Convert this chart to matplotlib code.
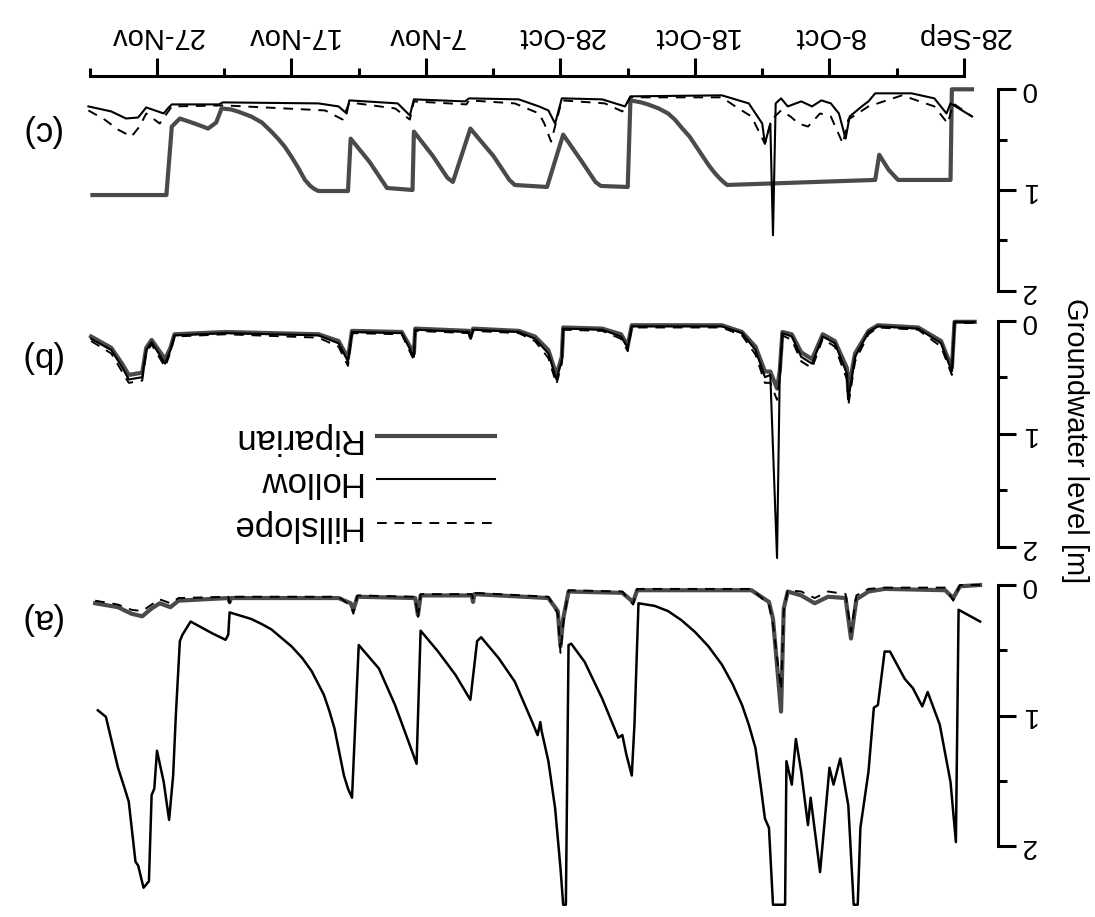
import matplotlib
matplotlib.use("Agg")
import matplotlib.pyplot as plt
from matplotlib.ticker import FixedLocator

plt.rcParams['font.family'] = ['Liberation Sans', 'DejaVu Sans']

# x = days after 28-Sep, y = groundwater depth [m] (figure is printed upside down)
date_ticks = [0, 10, 20, 30, 40, 50, 60]
date_labels = ['28-Sep', '8-Oct', '18-Oct', '28-Oct', '7-Nov', '17-Nov', '27-Nov']

# panel (a)
a_deep_days = [64.4, 63.8, 62.9, 62.4, 62.1, 61.6, 61.4, 61.0, 60.6, 60.4, 60.2, 60.0, 59.5, 59.1, 58.8,
               58.6, 58.3, 58.1, 57.5, 55.9, 54.9, 54.7, 54.6, 53.0, 52.2, 51.5, 50.0, 49.2, 48.5, 47.6,
               47.2, 46.8, 46.1, 45.8, 45.5, 45.0, 43.5, 42.3, 41.3, 40.7, 40.4, 39.1, 37.8, 36.7, 36.2,
               35.9, 34.6, 33.4, 32.1, 31.7, 31.5, 31.4, 30.9, 30.4, 30.0, 29.8, 29.6, 29.4, 29.2, 28.2,
               26.9, 25.7, 25.4, 25.1, 24.7, 24.5, 24.2, 23.0, 22.0, 21.0, 20.0, 19.0, 18.0, 17.2, 16.5,
               16.0, 15.5, 15.1, 14.8, 14.5, 14.2, 13.3, 13.2, 12.8, 12.5, 12.1, 11.6, 11.4, 10.7, 10.0,
               9.7, 9.2, 8.6, 8.2, 7.9, 7.7, 7.1, 6.7, 6.4, 5.9, 5.5, 4.4, 3.8, 3.1, 2.7,
               1.8, 1.0, 0.6, 0.4, -1.2]
a_deep = [0.96, 1.01, 1.40, 1.56, 1.66, 2.12, 2.15, 2.32, 2.27, 1.61, 1.56, 1.27, 1.51, 1.80, 1.46,
          1.00, 0.43, 0.38, 0.28, 0.37, 0.42, 0.38, 0.21, 0.26, 0.30, 0.34, 0.47, 0.56, 0.66, 0.84,
          0.96, 1.10, 1.46, 1.56, 1.63, 0.46, 0.64, 0.92, 1.20, 1.37, 0.35, 0.51, 0.69, 0.88, 0.43,
          0.40, 0.56, 0.74, 1.05, 1.15, 1.05, 1.12, 1.35, 1.71, 2.17, 2.45, 2.45, 0.46, 0.45, 0.59,
          0.87, 1.17, 1.15, 1.30, 1.46, 1.07, 0.14, 0.16, 0.20, 0.27, 0.36, 0.47, 0.61, 0.76, 0.92,
          1.07, 1.25, 1.55, 1.79, 1.86, 2.45, 2.45, 1.35, 1.53, 1.18, 1.43, 1.84, 1.63, 2.20, 1.40,
          1.53, 1.33, 1.69, 2.45, 2.45, 1.86, 1.43, 0.94, 0.92, 0.51, 0.51, 0.72, 0.79, 0.93, 0.82,
          1.07, 1.51, 1.97, 0.19, 0.28]

a_top_days = [64.6, 62.9, 61.9, 61.1, 60.4, 59.8, 59.0, 58.4, 54.7, 54.6, 54.5, 46.5, 45.6, 45.4, 45.1,
              40.8, 40.6, 40.4, 36.6, 36.5, 36.4, 30.9, 30.2, 30.0, 29.8, 29.4, 25.4, 24.6, 24.3, 15.8,
              14.5, 14.2, 13.6, 13.4, 13.1, 12.1, 11.1, 10.1, 8.8, 8.4, 8.0, 7.1, 5.9, 1.4, 0.8,
              0.3, -1.2]
a_riparian = [0.14, 0.17, 0.22, 0.24, 0.18, 0.14, 0.17, 0.12, 0.10, 0.13, 0.10, 0.10, 0.14, 0.19, 0.09,
              0.10, 0.23, 0.08, 0.08, 0.13, 0.07, 0.10, 0.20, 0.47, 0.26, 0.05, 0.06, 0.13, 0.04, 0.04,
              0.13, 0.26, 0.97, 0.18, 0.05, 0.08, 0.14, 0.09, 0.10, 0.41, 0.11, 0.05, 0.03, 0.04, 0.10,
              0.01, 0.00]
a_hillslope = [0.12, 0.15, 0.19, 0.20, 0.15, 0.11, 0.14, 0.10, 0.09, 0.14, 0.09, 0.09, 0.16, 0.22, 0.08,
               0.09, 0.26, 0.07, 0.07, 0.11, 0.06, 0.09, 0.22, 0.52, 0.30, 0.04, 0.05, 0.15, 0.03, 0.03,
               0.15, 0.30, 0.80, 0.20, 0.04, 0.05, 0.10, 0.05, 0.07, 0.36, 0.08, 0.03, 0.02, 0.02, 0.12,
               0.00, 0.00]

# panel (b)
b_days = [64.9, 63.4, 62.6, 62.1, 61.1, 60.8, 60.4, 59.4, 59.0, 58.7, 54.9, 48.0, 46.5, 45.8, 45.5,
          41.8, 40.9, 40.8, 36.8, 36.7, 36.5, 33.1, 31.9, 30.9, 30.3, 29.9, 29.8, 26.9, 25.5, 25.0,
          24.7, 18.0, 16.5, 15.5, 14.8, 14.4, 13.9, 13.7, 13.5, 12.8, 12.1, 11.3, 10.5, 9.6, 8.7,
          8.6, 8.1, 7.1, 6.4, 3.4, 1.7, 0.9, 0.7, -0.8]
b_hollow = [0.16, 0.26, 0.41, 0.52, 0.50, 0.26, 0.19, 0.38, 0.26, 0.13, 0.11, 0.13, 0.20, 0.36, 0.10,
            0.11, 0.32, 0.08, 0.10, 0.16, 0.08, 0.10, 0.16, 0.29, 0.52, 0.35, 0.07, 0.08, 0.14, 0.24,
            0.05, 0.05, 0.11, 0.26, 0.50, 0.48, 2.10, 0.48, 0.11, 0.14, 0.32, 0.38, 0.14, 0.20, 0.47,
            0.70, 0.32, 0.10, 0.05, 0.07, 0.20, 0.45, 0.01, 0.01]
b_riparian = [0.14, 0.24, 0.38, 0.48, 0.46, 0.24, 0.17, 0.34, 0.24, 0.12, 0.10, 0.12, 0.18, 0.33, 0.09,
              0.10, 0.29, 0.07, 0.09, 0.14, 0.07, 0.09, 0.14, 0.26, 0.48, 0.32, 0.06, 0.07, 0.12, 0.22,
              0.04, 0.04, 0.10, 0.23, 0.45, 0.45, 0.60, 0.45, 0.10, 0.12, 0.28, 0.34, 0.12, 0.18, 0.42,
              0.62, 0.29, 0.09, 0.04, 0.06, 0.18, 0.42, 0.01, 0.01]
b_hillslope = [0.18, 0.29, 0.45, 0.55, 0.53, 0.28, 0.21, 0.41, 0.28, 0.14, 0.12, 0.15, 0.23, 0.40, 0.11,
               0.12, 0.35, 0.09, 0.11, 0.18, 0.09, 0.11, 0.18, 0.33, 0.56, 0.38, 0.08, 0.09, 0.16, 0.27,
               0.06, 0.06, 0.13, 0.30, 0.55, 0.55, 0.70, 0.52, 0.13, 0.17, 0.36, 0.42, 0.16, 0.23, 0.52,
               0.75, 0.36, 0.12, 0.06, 0.08, 0.23, 0.48, 0.02, 0.02]

# panel (c)
c_rip_days = [64.8, 59.3, 58.9, 58.3, 57.2, 56.2, 55.6, 55.2, 54.5, 54.0, 53.0, 52.2, 51.5, 51.0, 50.5,
              50.0, 49.5, 49.0, 48.6, 48.3, 48.0, 45.8, 45.6, 44.2, 43.3, 42.9, 41.0, 40.9, 39.5, 38.4,
              38.0, 36.7, 35.0, 33.8, 33.4, 31.0, 29.8, 28.4, 27.4, 27.0, 25.0, 24.8, 24.0, 23.5, 22.7,
              22.0, 21.5, 21.0, 20.4, 19.9, 19.4, 19.0, 18.6, 18.2, 17.8, 17.6, 6.6, 6.3, 5.6, 4.9,
              1.0, 0.9, -0.6]
c_riparian = [1.05, 1.05, 0.37, 0.29, 0.34, 0.39, 0.33, 0.19, 0.20, 0.22, 0.27, 0.33, 0.42, 0.49, 0.57,
              0.67, 0.78, 0.90, 0.96, 0.99, 1.01, 1.01, 0.49, 0.72, 0.90, 0.98, 1.00, 0.42, 0.66, 0.88,
              0.92, 0.39, 0.66, 0.90, 0.95, 0.97, 0.45, 0.72, 0.92, 0.96, 0.97, 0.11, 0.13, 0.15, 0.19,
              0.24, 0.30, 0.38, 0.47, 0.57, 0.67, 0.75, 0.82, 0.88, 0.93, 0.95, 0.90, 0.65, 0.80, 0.90,
              0.90, 0.00, 0.00]

c_hol_days = [65.1, 63.4, 62.3, 61.4, 60.8, 59.5, 59.2, 58.9, 55.4, 55.1, 48.0, 46.5, 45.9, 45.7, 42.1,
              41.2, 40.9, 37.1, 36.8, 33.1, 31.6, 30.9, 30.4, 29.9, 26.9, 25.2, 24.8, 18.0, 16.0, 15.0,
              14.8, 14.4, 14.2, 14.0, 13.6, 13.1, 12.1, 11.3, 10.6, 9.9, 9.3, 8.8, 8.5, 7.6, 7.1,
              6.6, 3.9, 2.2, 1.3, 1.0, -0.6]
c_hollow = [0.17, 0.22, 0.29, 0.28, 0.18, 0.24, 0.19, 0.15, 0.15, 0.13, 0.14, 0.17, 0.24, 0.11, 0.14,
            0.26, 0.10, 0.12, 0.09, 0.10, 0.17, 0.21, 0.34, 0.09, 0.10, 0.17, 0.07, 0.06, 0.14, 0.34,
            0.54, 0.34, 1.45, 0.14, 0.09, 0.17, 0.12, 0.17, 0.11, 0.14, 0.24, 0.49, 0.27, 0.17, 0.12,
            0.04, 0.04, 0.09, 0.24, 0.14, 0.27]

c_hill_days = [65.1, 63.9, 62.9, 61.9, 61.3, 60.8, 59.8, 58.9, 55.0, 47.5, 46.2, 45.7, 42.3, 41.2, 40.9,
               37.0, 36.8, 33.4, 31.6, 31.2, 30.7, 29.9, 26.7, 25.4, 24.8, 18.0, 17.0, 15.8, 14.8, 14.3,
               13.6, 12.9, 12.3, 11.6, 10.7, 9.9, 9.0, 8.6, 7.1, 4.6, 2.2, 1.2, 0.8, -0.6]
c_hillslope = [0.21, 0.30, 0.40, 0.47, 0.37, 0.24, 0.34, 0.17, 0.16, 0.21, 0.30, 0.13, 0.19, 0.30, 0.12,
               0.15, 0.11, 0.14, 0.24, 0.34, 0.52, 0.11, 0.14, 0.22, 0.08, 0.08, 0.17, 0.27, 0.54, 0.30,
               0.21, 0.27, 0.34, 0.37, 0.24, 0.27, 0.54, 0.30, 0.17, 0.06, 0.17, 0.34, 0.14, 0.27]

W, H = 1095, 917
fig = plt.figure(figsize=(W / 100, H / 100), dpi=100)


def panel_axes(top_px, bottom_px):
    ax = fig.add_axes([88 / W, 1 - bottom_px / H, (998 - 88) / W, (bottom_px - top_px) / H])
    ax.set_xlim(65.13, -2.53)
    ax.set_ylim(2, 0)
    ax.patch.set_visible(False)
    for s in ['left', 'top', 'bottom']:
        ax.spines[s].set_visible(False)
    ax.spines['right'].set_bounds(0, 2)
    ax.spines['right'].set_linewidth(2.2)
    ax.set_xticks([])
    ax.yaxis.set_ticks_position('right')
    ax.set_yticks([0, 1, 2])
    ax.yaxis.set_minor_locator(FixedLocator([0.5, 1.5]))
    ax.tick_params(axis='y', which='major', direction='out', length=13, width=2.2,
                   labelsize=20, pad=3)
    ax.tick_params(axis='y', which='minor', direction='out', length=6.5, width=2.2)
    for lab in ax.get_yticklabels():
        lab.set_rotation(180)
        lab.set_va('center')
    return ax


ax_c = panel_axes(89.3, 290.7)
ax_b = panel_axes(320.7, 546.7)
ax_a = panel_axes(585, 846)

rip_kw = dict(color='#4a4a4a', lw=3.0, clip_on=False)
hol_kw = dict(color='black', lw=1.5, clip_on=False)
hill_kw = dict(color='black', lw=1.4, dashes=(5, 4), clip_on=False)

# panel (a)
ax_a.plot(a_top_days, a_riparian, **rip_kw)
ax_a.plot(a_top_days, a_hillslope, **hill_kw)
ax_a.plot(a_deep_days, a_deep, color='black', lw=1.8, clip_on=False)

# panel (b)
ax_b.plot(b_days, b_riparian, label='Riparian', **rip_kw)
ax_b.plot(b_days, b_hollow, label='Hollow', **hol_kw)
ax_b.plot(b_days, b_hillslope, label='Hillslope', **hill_kw)

# panel (c)
ax_c.plot(c_rip_days, c_riparian, **rip_kw)
ax_c.plot(c_hol_days, c_hollow, **hol_kw)
ax_c.plot(c_hill_days, c_hillslope, **hill_kw)

# date axis on top
ax_c.spines['top'].set_visible(True)
ax_c.spines['top'].set_position(('outward', 9.5))
ax_c.spines['top'].set_bounds(0, 65)
ax_c.spines['top'].set_linewidth(2.2)
ax_c.xaxis.set_ticks_position('top')
ax_c.set_xticks(date_ticks)
ax_c.set_xticklabels(date_labels)
ax_c.xaxis.set_minor_locator(FixedLocator([5, 15, 25, 35, 45, 55, 65]))
ax_c.tick_params(axis='x', which='major', direction='out', length=13, width=2.2,
                 labelsize=21, pad=6)
ax_c.tick_params(axis='x', which='minor', direction='out', length=6, width=2.2)
for lab in ax_c.get_xticklabels():
    lab.set_rotation(180)

# legend (upside down)
leg = ax_b.legend(loc='center', bbox_to_anchor=(362 / W, 1 - 482 / H),
                  bbox_transform=fig.transFigure, frameon=False, markerfirst=False, fontsize=25,
                  handlelength=3.4, handletextpad=0.45, labelspacing=0.3)
for t in leg.get_texts():
    t.set_rotation(180)

fig.text(1075 / W, 1 - 441 / H, 'Groundwater level [m]', rotation=270, fontsize=21,
         ha='center', va='center')
for lab, ypx in [('(c)', 131), ('(b)', 356), ('(a)', 619)]:
    fig.text(40 / W, 1 - ypx / H, lab, rotation=180, fontsize=25, ha='center', va='center')

fig.savefig('out.png', dpi=100)
